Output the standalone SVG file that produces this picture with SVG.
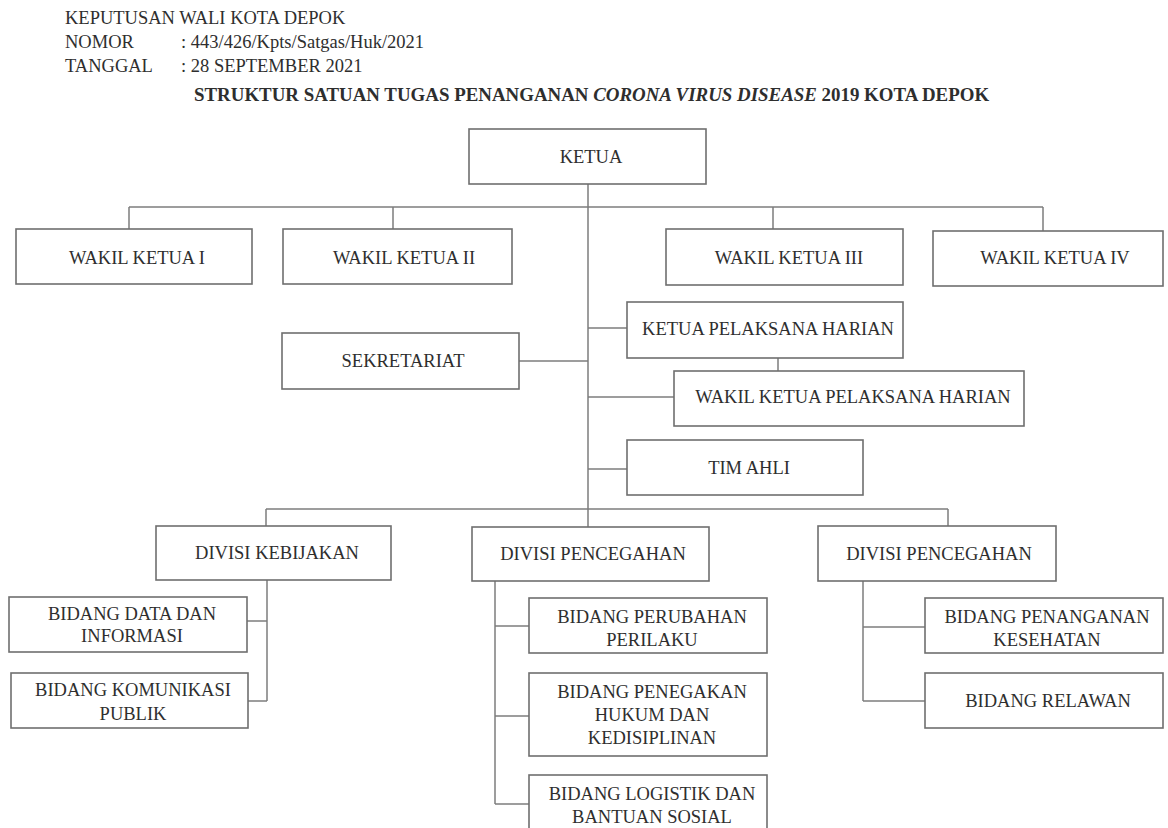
<svg xmlns="http://www.w3.org/2000/svg" width="1168" height="828" viewBox="0 0 1168 828">
<style>
text{font-family:"Liberation Serif","Times New Roman",serif;font-size:18.5px;fill:#2e2e2e}
.box{fill:#fff;stroke:#6f6f6f;stroke-width:1.6}
.lbl{text-anchor:middle}
.ttl{font-weight:bold;font-size:18.9px}
#connectors line{stroke:#7c7c7c;stroke-width:1.5}
</style>
<rect width="1168" height="828" fill="#fff"/>
<g id="header">
<text x="65" y="24">KEPUTUSAN WALI KOTA DEPOK</text>
<text x="65" y="48">NOMOR</text>
<text x="181" y="48">: 443/426/Kpts/Satgas/Huk/2021</text>
<text x="65" y="72">TANGGAL</text>
<text x="181" y="72">: 28 SEPTEMBER 2021</text>
<text class="ttl" x="194" y="101">STRUKTUR SATUAN TUGAS PENANGANAN <tspan font-style="italic">CORONA VIRUS DISEASE</tspan> 2019 KOTA DEPOK</text>
</g>
<g id="connectors">
<line x1="588" y1="184" x2="588" y2="527"/>
<line x1="129" y1="207" x2="1043" y2="207"/>
<line x1="129" y1="207" x2="129" y2="229"/>
<line x1="393" y1="207" x2="393" y2="229"/>
<line x1="773" y1="207" x2="773" y2="229"/>
<line x1="1043" y1="207" x2="1043" y2="231"/>
<line x1="588" y1="328" x2="627" y2="328"/>
<line x1="519" y1="361" x2="588" y2="361"/>
<line x1="588" y1="397" x2="674" y2="397"/>
<line x1="778" y1="358" x2="778" y2="371"/>
<line x1="588" y1="469" x2="627" y2="469"/>
<line x1="266" y1="509" x2="948" y2="509"/>
<line x1="266" y1="509" x2="266" y2="526"/>
<line x1="948" y1="509" x2="948" y2="526"/>
<line x1="267" y1="580" x2="267" y2="701"/>
<line x1="247" y1="621" x2="267" y2="621"/>
<line x1="248" y1="701" x2="267" y2="701"/>
<line x1="495" y1="581" x2="495" y2="804"/>
<line x1="495" y1="626" x2="529" y2="626"/>
<line x1="495" y1="716" x2="529" y2="716"/>
<line x1="495" y1="804" x2="529" y2="804"/>
<line x1="863" y1="581" x2="863" y2="701"/>
<line x1="863" y1="627" x2="925" y2="627"/>
<line x1="863" y1="701" x2="925" y2="701"/>
</g>
<g id="ketua"><rect class="box" x="469" y="129" width="237" height="55"/><text class="lbl" x="591" y="163">KETUA</text></g>
<g id="wakil1"><rect class="box" x="16" y="229" width="236" height="55"/><text class="lbl" x="137" y="264">WAKIL KETUA I</text></g>
<g id="wakil2"><rect class="box" x="283" y="229" width="229" height="55"/><text class="lbl" x="404" y="264">WAKIL KETUA II</text></g>
<g id="wakil3"><rect class="box" x="666" y="229" width="237" height="56"/><text class="lbl" x="789" y="264">WAKIL KETUA III</text></g>
<g id="wakil4"><rect class="box" x="933" y="231" width="230" height="55"/><text class="lbl" x="1055" y="264">WAKIL KETUA IV</text></g>
<g id="kph"><rect class="box" x="627" y="302" width="276" height="56"/><text class="lbl" x="768" y="335">KETUA PELAKSANA HARIAN</text></g>
<g id="sekretariat"><rect class="box" x="282" y="333" width="237" height="56"/><text class="lbl" x="403" y="367">SEKRETARIAT</text></g>
<g id="wkph"><rect class="box" x="674" y="371" width="350" height="55"/><text class="lbl" x="853" y="403">WAKIL KETUA PELAKSANA HARIAN</text></g>
<g id="timahli"><rect class="box" x="627" y="440" width="236" height="55"/><text class="lbl" x="749" y="474">TIM AHLI</text></g>
<g id="divkebijakan"><rect class="box" x="156" y="526" width="235" height="54"/><text class="lbl" x="277" y="559">DIVISI KEBIJAKAN</text></g>
<g id="divpencegahan1"><rect class="box" x="472" y="527" width="237" height="54"/><text class="lbl" x="593" y="560">DIVISI PENCEGAHAN</text></g>
<g id="divpencegahan2"><rect class="box" x="818" y="526" width="238" height="55"/><text class="lbl" x="939" y="560">DIVISI PENCEGAHAN</text></g>
<g id="bidangdata"><rect class="box" x="9" y="597" width="238" height="55"/><text class="lbl" x="132" y="620">BIDANG DATA DAN</text><text class="lbl" x="132" y="642">INFORMASI</text></g>
<g id="bidangkomunikasi"><rect class="box" x="11" y="673" width="237" height="55"/><text class="lbl" x="133" y="696">BIDANG KOMUNIKASI</text><text class="lbl" x="133" y="720">PUBLIK</text></g>
<g id="bidangperubahan"><rect class="box" x="529" y="598" width="238" height="55"/><text class="lbl" x="652" y="623">BIDANG PERUBAHAN</text><text class="lbl" x="652" y="646">PERILAKU</text></g>
<g id="bidangpenegakan"><rect class="box" x="529" y="673" width="238" height="83"/><text class="lbl" x="652" y="698">BIDANG PENEGAKAN</text><text class="lbl" x="652" y="721">HUKUM DAN</text><text class="lbl" x="652" y="744">KEDISIPLINAN</text></g>
<g id="bidanglogistik"><rect class="box" x="529" y="775" width="238" height="60"/><text class="lbl" x="652" y="800">BIDANG LOGISTIK DAN</text><text class="lbl" x="652" y="823">BANTUAN SOSIAL</text></g>
<g id="bidangpenanganan"><rect class="box" x="925" y="598" width="238" height="55"/><text class="lbl" x="1047" y="623">BIDANG PENANGANAN</text><text class="lbl" x="1047" y="646">KESEHATAN</text></g>
<g id="bidangrelawan"><rect class="box" x="925" y="673" width="238" height="55"/><text class="lbl" x="1048" y="707">BIDANG RELAWAN</text></g>
</svg>
